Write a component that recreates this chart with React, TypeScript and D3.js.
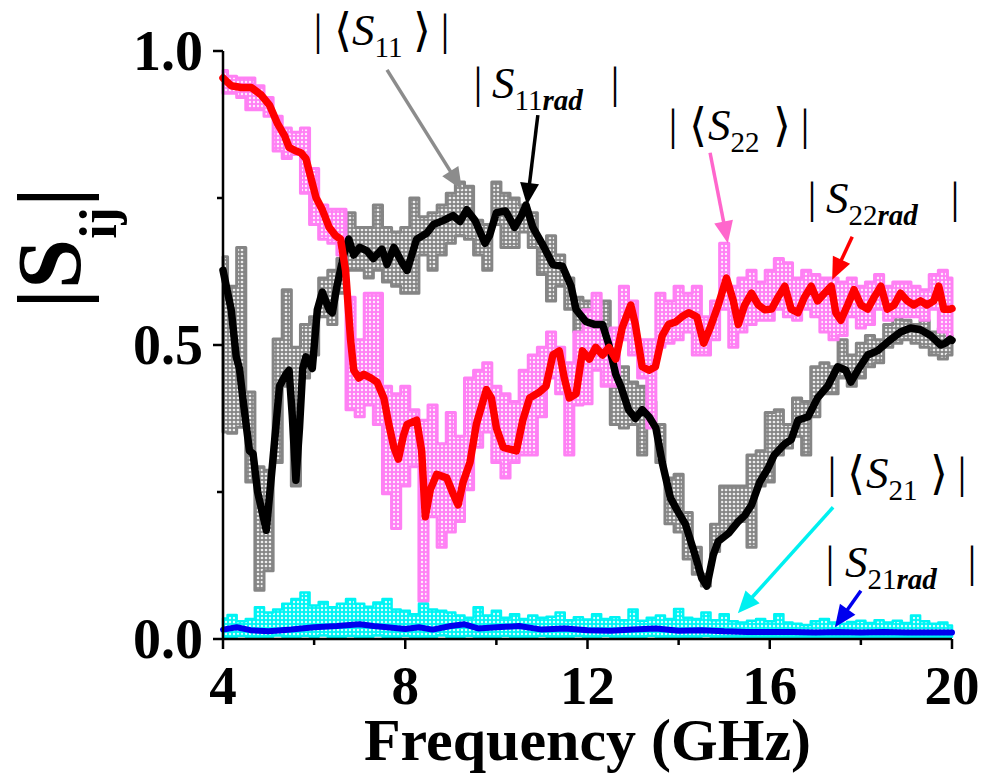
import React from 'react';
import * as d3 from 'd3';

// ---------- data ----------
const FREQ_GRID = [
  4.0, 4.2, 4.4, 4.6, 4.8, 5.0, 5.2, 5.4, 5.6, 5.8,
  6.0, 6.2, 6.4, 6.6, 6.8, 7.0, 7.2, 7.4, 7.6, 7.8,
  8.0, 8.2, 8.4, 8.6, 8.8, 9.0, 9.2, 9.4, 9.6, 9.8,
  10.0, 10.2, 10.4, 10.6, 10.8, 11.0, 11.2, 11.4, 11.6, 11.8,
  12.0, 12.2, 12.4, 12.6, 12.8, 13.0, 13.2, 13.4, 13.6, 13.8,
  14.0, 14.2, 14.4, 14.6, 14.8, 15.0, 15.2, 15.4, 15.6, 15.8,
  16.0, 16.2, 16.4, 16.6, 16.8, 17.0, 17.2, 17.4, 17.6, 17.8,
  18.0, 18.2, 18.4, 18.6, 18.8, 19.0, 19.2, 19.4, 19.6, 19.8,
  20.0,
];

// |<S11>| measured scatter: upper / lower edge of the cloud
const S11_AVG_HI = [
  .65, .60, .666, .42, .293, .287, .51, .594, .496, .535,
  .548, .614, .627, .647, .725, .70, .70, .738, .70, .692,
  .70, .75, .718, .725, .738, .758, .777, .77, .712, .705,
  .777, .758, .75, .738, .725, .673, .686, .653, .614, .581,
  .575, .568, .575, .483, .463, .437, .43, .404, .365, .274,
  .28, .215, .156, .11, .195, .26, .26, .26, .313, .32,
  .385, .39, .365, .41, .404, .463, .47, .463, .509, .483,
  .503, .516, .509, .535, .548, .542, .535, .542, .522, .529,
  .516,
];
const S11_AVG_LO = [
  .352, .35, .36, .267, .083, .116, .30, .43, .26, .444,
  .483, .548, .535, .588, .627, .627, .614, .627, .607, .60,
  .588, .588, .653, .627, .653, .673, .686, .68, .653, .627,
  .705, .666, .666, .692, .666, .62, .575, .60, .561, .522,
  .509, .522, .509, .365, .359, .365, .313, .365, .30, .196,
  .182, .136, .11, .09, .149, .182, .195, .20, .156, .26,
  .267, .313, .325, .345, .313, .378, .417, .417, .444, .43,
  .444, .463, .47, .496, .503, .509, .503, .496, .483, .476,
  .483,
];

// |<S22>| measured scatter
const S22_AVG_HI = [
  .967, .957, .954, .954, .941, .921, .889, .869, .862, .869,
  .80, .738, .731, .731, .581, .509, .588, .588, .43, .417,
  .43, .39, .372, .398, .332, .385, .345, .444, .457, .47,
  .43, .417, .404, .457, .483, .496, .522, .496, .47, .522,
  .56, .588, .522, .529, .60, .575, .509, .509, .588, .575,
  .60, .588, .60, .548, .575, .673, .60, .614, .627, .607,
  .627, .647, .64, .614, .627, .62, .614, .614, .607, .614,
  .60, .607, .62, .60, .607, .607, .60, .594, .62, .627,
  .614,
];
const S22_AVG_LO = [
  .928, .928, .921, .90, .90, .889, .83, .817, .824, .758,
  .705, .68, .673, .653, .39, .378, .398, .365, .247, .188,
  .26, .293, .064, .208, .156, .182, .20, .254, .326, .352,
  .30, .274, .30, .313, .313, .378, .444, .417, .313, .398,
  .40, .457, .43, .43, .509, .483, .444, .359, .496, .503,
  .509, .522, .483, .483, .509, .561, .496, .522, .535, .542,
  .542, .561, .548, .542, .561, .548, .522, .509, .516, .548,
  .529, .535, .561, .542, .548, .548, .548, .542, .561, .522,
  .509,
];

// |<S21>| measured scatter
const S21_AVG_HI = [
  .035, .041, .03, .034, .054, .045, .05, .06, .068, .079,
  .057, .063, .054, .06, .068, .06, .055, .062, .068, .05,
  .048, .042, .06, .05, .048, .045, .04, .036, .054, .04,
  .048, .036, .042, .034, .04, .036, .038, .045, .032, .037,
  .033, .042, .034, .037, .032, .05, .031, .036, .04, .034,
  .051, .036, .034, .045, .032, .042, .03, .028, .031, .034,
  .03, .042, .028, .026, .024, .03, .034, .028, .026, .029,
  .031, .027, .032, .028, .031, .027, .04, .03, .026, .028,
  .023,
];
const S21_AVG_LO = [
  .004, .003, .005, .004, .003, .004, .006, .004, .003, .005,
  .004, .006, .003, .004, .005, .003, .004, .006, .004, .003,
  .005, .004, .003, .004, .006, .004, .003, .005, .004, .003,
  .004, .005, .003, .004, .003, .005, .004, .003, .004, .005,
  .003, .004, .005, .003, .004, .003, .004, .005, .003, .004,
  .003, .004, .003, .005, .004, .003, .004, .003, .004, .003,
  .004, .003, .004, .003, .004, .003, .004, .003, .004, .003,
  .004, .003, .004, .003, .004, .003, .004, .003, .004, .003,
  .004,
];

// |S11rad|
const S11_RAD_F = [
  4.0, 4.18, 4.29, 4.36, 4.45, 4.58, 4.66, 4.76, 4.95, 5.09,
  5.24, 5.38, 5.45, 5.52, 5.6, 5.68, 5.75, 5.82, 5.96, 6.07,
  6.18, 6.33, 6.4, 6.5, 6.65, 6.76, 6.87, 7.0, 7.16, 7.3,
  7.49, 7.6, 7.75, 7.93, 8.04, 8.25, 8.47, 8.62, 8.84, 9.05,
  9.2, 9.35, 9.53, 9.75, 9.85, 10.0, 10.2, 10.4, 10.55, 10.65,
  10.8, 11.0, 11.24, 11.45, 11.64, 11.75, 11.96, 12.15, 12.33, 12.47,
  12.62, 12.73, 12.9, 13.05, 13.2, 13.35, 13.5, 13.64, 13.82, 13.96,
  14.15, 14.36, 14.51, 14.62, 14.76, 14.87, 15.1, 15.31, 15.45, 15.6,
  15.78, 15.96, 16.1, 16.33, 16.47, 16.62, 16.84, 17.05, 17.27, 17.49,
  17.67, 17.78, 17.93, 18.15, 18.36, 18.65, 18.87, 19.09, 19.31, 19.53,
  19.75, 19.85, 19.96, 20.0,
];
const S11_RAD_V = [
  .627, .56, .48, .46, .40, .32, .315, .25, .185, .30,
  .43, .45, .457, .38, .27, .36, .46, .48, .46, .56,
  .59, .56, .555, .60, .653, .68, .653, .666, .66, .647,
  .663, .637, .666, .64, .627, .68, .69, .705, .712, .72,
  .71, .73, .712, .673, .686, .725, .728, .70, .72, .738,
  .70, .673, .637, .634, .60, .56, .54, .535, .535, .50,
  .45, .43, .39, .375, .39, .378, .359, .30, .24, .22,
  .195, .143, .103, .09, .143, .166, .18, .20, .21, .228,
  .267, .29, .313, .332, .339, .372, .378, .41, .43, .463,
  .457, .437, .457, .483, .49, .509, .522, .529, .526, .516,
  .50, .503, .51, .508,
];

// |S22rad|
const S22_RAD_F = [
  4.0, 4.18, 4.4, 4.62, 4.84, 5.02, 5.2, 5.35, 5.45, 5.6,
  5.71, 5.82, 5.93, 6.04, 6.18, 6.33, 6.47, 6.58, 6.69, 6.8,
  6.87, 6.98, 7.09, 7.24, 7.38, 7.53, 7.64, 7.75, 7.85, 7.96,
  8.04, 8.25, 8.36, 8.44, 8.55, 8.69, 8.91, 9.05, 9.16, 9.27,
  9.42, 9.56, 9.78, 9.89, 10.0, 10.15, 10.29, 10.44, 10.58, 10.73,
  10.95, 11.09, 11.24, 11.38, 11.49, 11.6, 11.75, 11.89, 12.04, 12.18,
  12.33, 12.47, 12.62, 12.76, 12.95, 13.05, 13.2, 13.35, 13.49, 13.64,
  13.78, 13.93, 14.07, 14.22, 14.4, 14.55, 14.69, 14.87, 15.05, 15.2,
  15.31, 15.45, 15.6, 15.75, 15.89, 16.04, 16.18, 16.33, 16.47, 16.62,
  16.76, 16.91, 17.05, 17.2, 17.35, 17.45, 17.56, 17.71, 17.85, 18.0,
  18.15, 18.29, 18.44, 18.58, 18.73, 18.87, 19.02, 19.16, 19.31, 19.45,
  19.6, 19.71, 19.82, 19.96, 20.0,
];
const S22_RAD_V = [
  .954, .941, .938, .938, .925, .908, .876, .856, .836, .83,
  .827, .817, .784, .751, .73, .70, .686, .68, .627, .509,
  .457, .444, .45, .444, .437, .41, .365, .326, .306, .346,
  .365, .372, .32, .208, .254, .28, .274, .247, .228, .267,
  .30, .365, .424, .41, .359, .326, .323, .32, .372, .41,
  .42, .43, .483, .49, .444, .41, .417, .49, .476, .496,
  .483, .496, .476, .529, .568, .535, .463, .457, .463, .516,
  .535, .539, .548, .555, .548, .503, .529, .568, .614, .575,
  .535, .568, .588, .568, .56, .561, .581, .60, .561, .555,
  .581, .60, .575, .588, .60, .555, .542, .568, .594, .568,
  .561, .581, .60, .561, .568, .588, .575, .568, .575, .568,
  .575, .60, .561, .561, .562,
];

// |S21rad|
const S21_RAD_F = [
  4.0, 4.3, 4.6, 5.0, 5.5, 6.0, 6.5, 7.0, 7.3, 7.6,
  8.0, 8.3, 8.6, 9.0, 9.3, 9.6, 10.0, 10.5, 11.0, 11.5,
  12.0, 12.5, 13.0, 13.5, 14.0, 14.5, 15.0, 15.5, 16.0, 16.5,
  17.0, 17.5, 18.0, 18.5, 19.0, 19.5, 20.0,
];
const S21_RAD_V = [
  .016, .02, .015, .013, .016, .02, .022, .025, .022, .02,
  .017, .02, .016, .022, .025, .018, .02, .022, .016, .018,
  .015, .014, .016, .018, .014, .015, .013, .012, .012, .012,
  .011, .012, .011, .012, .011, .011, .011,
];

const X_MAJOR = [4, 8, 12, 16, 20];
const X_MINOR = [6, 10, 14, 18];
const Y_MAJOR = [0, 0.5, 1.0];
const Y_MAJOR_LABELS = ['0.0', '0.5', '1.0'];
const Y_MINOR = [0.25, 0.75];

// ---------- layout ----------
const W = 987;
const H = 775;
const x = d3.scaleLinear().domain([4, 20]).range([223, 952]);
const y = d3.scaleLinear().domain([0, 1]).range([639, 51]);
const FONT = "'Liberation Serif', 'Times New Roman', 'DejaVu Serif', serif";
const BRACKET_FONT = "'DejaVu Serif', 'DejaVu Sans', 'Liberation Serif', serif";

// annotation labels (pixel layout) and arrows (data coordinates)
type Ann = {
  bar1: number; bar2: number; body: number; sx: number; base: number;
  sub: string; rad: boolean; angle: boolean;
  tail: [number, number]; tip: [number, number]; color: string;
};
const ANNS: Ann[] = [
  { bar1: 318, bar2: 445, body: 334, sx: 352, base: 45, sub: '11', rad: false, angle: true, tail: [7.60, 0.968], tip: [9.245, 0.764], color: '#8c8c8c' },
  { bar1: 478, bar2: 615, body: 492, sx: 492, base: 98, sub: '11', rad: true, angle: false, tail: [10.91, 0.891], tip: [10.67, 0.738], color: '#000000' },
  { bar1: 673, bar2: 805, body: 689, sx: 708, base: 140, sub: '22', rad: false, angle: true, tail: [14.69, 0.827], tip: [15.08, 0.673], color: '#ff66cc' },
  { bar1: 812, bar2: 955, body: 826, sx: 826, base: 213, sub: '22', rad: true, angle: false, tail: [17.81, 0.684], tip: [17.37, 0.611], color: '#ff0000' },
  { bar1: 832, bar2: 962, body: 847, sx: 866, base: 488, sub: '21', rad: false, angle: true, tail: [17.39, 0.224], tip: [15.30, 0.044], color: '#00f0f0' },
  { bar1: 830, bar2: 972, body: 845, sx: 845, base: 577, sub: '21', rad: true, angle: false, tail: [18.0, 0.082], tip: [17.43, 0.020], color: '#0000ee' },
];

function arrow(x1: number, y1: number, x2: number, y2: number, len = 22, half = 9.5) {
  const dx = x2 - x1, dy = y2 - y1;
  const L = Math.hypot(dx, dy);
  const ux = dx / L, uy = dy / L;
  const bx = x2 - ux * len, by = y2 - uy * len;
  const nx = -uy, ny = ux;
  return {
    shaft: `M${x1},${y1}L${bx + ux * 2},${by + uy * 2}`,
    head: `M${x2},${y2}L${bx + nx * half},${by + ny * half}L${bx - nx * half},${by - ny * half}Z`,
  };
}

export default function App() {
  const band = (hi: number[], lo: number[]) =>
    d3.area<number>()
      .x((_, i) => x(FREQ_GRID[i]))
      .y1((d) => y(d))
      .y0((_, i) => y(lo[i]))
      .curve(d3.curveStep)(hi) || '';
  const line = (fs: number[], vs: number[]) =>
    d3.line<number>()
      .x((_, i) => x(fs[i]))
      .y((d) => y(d))(vs) || '';

  const pat = (id: string, color: string, r: number) => (
    <pattern id={id} width={4} height={4} patternUnits="userSpaceOnUse">
      <rect width={4} height={4} fill={color} />
      <circle cx={2} cy={2} r={r} fill="#ffffff" opacity={0.85} />
    </pattern>
  );

  return (
    <svg width={W} height={H} style={{ position: 'absolute', left: 0, top: 0, background: '#fff' }}
      fontFamily={FONT}>
      <defs>
        {pat('pGray', '#858585', 1.35)}
        {pat('pPink', '#ff80f4', 1.2)}
        {pat('pCyan', '#00f4f4', 1.2)}
      </defs>
      <rect width={W} height={H} fill="#fff" />

      {/* scatter clouds */}
      <path d={band(S11_AVG_HI, S11_AVG_LO)} fill="url(#pGray)" stroke="#858585" strokeWidth={3} strokeLinejoin="round" />
      <path d={band(S22_AVG_HI, S22_AVG_LO)} fill="url(#pPink)" stroke="#ff80f4" strokeWidth={3} strokeLinejoin="round" />
      <path d={band(S21_AVG_HI, S21_AVG_LO)} fill="url(#pCyan)" stroke="#00f4f4" strokeWidth={2.5} strokeLinejoin="round" />

      {/* smooth lines */}
      <path d={line(S11_RAD_F, S11_RAD_V)} fill="none" stroke="#000" strokeWidth={7.5} strokeLinejoin="round" strokeLinecap="round" />
      <path d={line(S22_RAD_F, S22_RAD_V)} fill="none" stroke="#ff0000" strokeWidth={7.5} strokeLinejoin="round" strokeLinecap="round" />
      <path d={line(S21_RAD_F, S21_RAD_V)} fill="none" stroke="#0000ee" strokeWidth={6} strokeLinejoin="round" strokeLinecap="round" />

      {/* axes */}
      <line x1={x(4)} x2={x(4)} y1={y(1)} y2={y(0)} stroke="#000" strokeWidth={2.5} />
      <line x1={x(4)} x2={x(20)} y1={y(0)} y2={y(0)} stroke="#000" strokeWidth={2.5} />
      {X_MAJOR.map((t) => (
        <g key={'xM' + t}>
          <line x1={x(t)} x2={x(t)} y1={y(0)} y2={y(0) + 10} stroke="#000" strokeWidth={2.5} />
          <text x={x(t)} y={704} textAnchor="middle" fontSize={55} fontWeight="bold">{t}</text>
        </g>
      ))}
      {X_MINOR.map((t) => (
        <line key={'xm' + t} x1={x(t)} x2={x(t)} y1={y(0)} y2={y(0) + 6} stroke="#000" strokeWidth={2.5} />
      ))}
      {Y_MAJOR.map((t, i) => (
        <g key={'yM' + t}>
          <line x1={x(4) - 10} x2={x(4)} y1={y(t)} y2={y(t)} stroke="#000" strokeWidth={2.5} />
          <text x={203} y={y(t) + 19} textAnchor="end" fontSize={56} fontWeight="bold">{Y_MAJOR_LABELS[i]}</text>
        </g>
      ))}
      {Y_MINOR.map((t) => (
        <line key={'ym' + t} x1={x(4) - 6} x2={x(4)} y1={y(t)} y2={y(t)} stroke="#000" strokeWidth={2.5} />
      ))}

      {/* axis titles */}
      <text x={(x(4) + x(20)) / 2} y={760} textAnchor="middle" fontSize={60} fontWeight="bold">Frequency (GHz)</text>
      <text transform="translate(80,248) rotate(-90)" textAnchor="middle" fontSize={90} fontWeight="bold">
        |S<tspan fontSize={52} dy={36}>ij</tspan><tspan dy={-36}>|</tspan>
      </text>

      {/* annotations */}
      {ANNS.map((a, i) => {
        const ar = arrow(x(a.tail[0]), y(a.tail[1]), x(a.tip[0]), y(a.tip[1]));
        return (
          <g key={'ann' + i}>
            <path d={ar.shaft} stroke={a.color} strokeWidth={3.5} fill="none" />
            <path d={ar.head} fill={a.color} stroke="none" />
            <text x={a.bar1} y={a.base} fontSize={45} textAnchor="middle">|</text>
            {a.angle ? (
              <text x={a.body} y={a.base + 1} fontSize={46} fontFamily={BRACKET_FONT} fontWeight={200}>{'\u27E8'}</text>
            ) : null}
            <text x={a.sx} y={a.base} fontSize={45}>
              <tspan fontStyle="italic">S</tspan>
              <tspan fontSize={29} dy={12}>{a.sub}</tspan>
              {a.rad ? <tspan fontSize={29} fontStyle="italic" fontWeight="bold">rad</tspan> : null}
            </text>
            {a.angle ? (
              <text x={a.bar2 - 14} y={a.base + 1} fontSize={46} textAnchor="end" fontFamily={BRACKET_FONT} fontWeight={200}>{'\u27E9'}</text>
            ) : null}
            <text x={a.bar2} y={a.base} fontSize={45} textAnchor="middle">|</text>
          </g>
        );
      })}
    </svg>
  );
}
